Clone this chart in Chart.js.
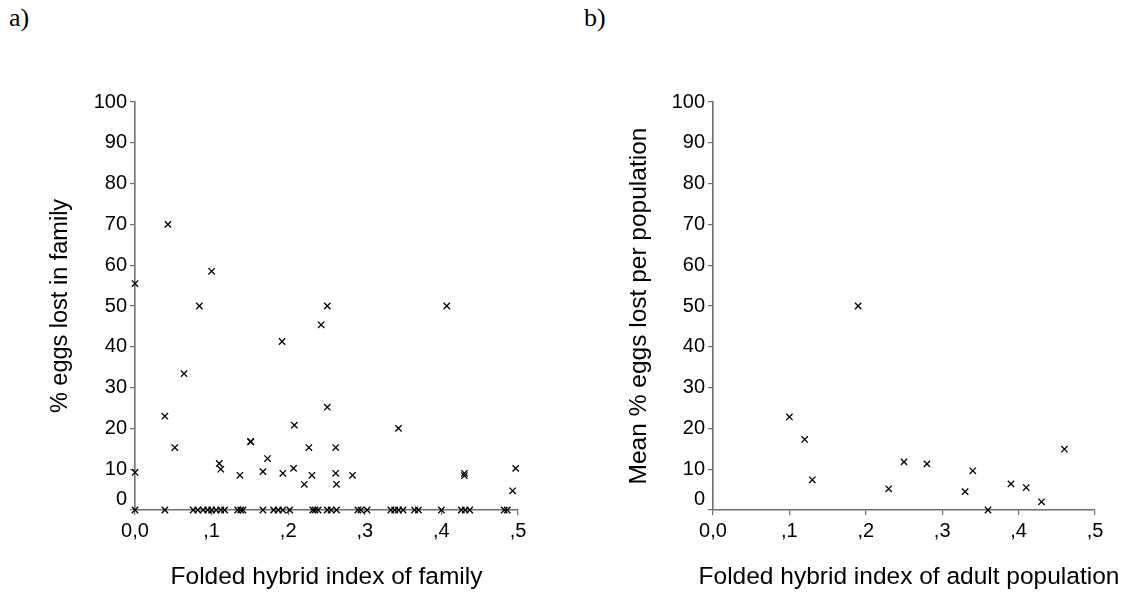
<!DOCTYPE html>
<html>
<head>
<meta charset="utf-8">
<script src="https://cdn.jsdelivr.net/npm/chart.js@4.4.1/dist/chart.umd.min.js"></script>
<style>
  body { margin: 0; background: #fff; }
  #wrap { position: relative; width: 1129px; height: 599px; }
  canvas { position: absolute; top: 0; }
  .panel { position: absolute; top: 3px; font: 26px "Liberation Serif", "Times New Roman", serif; color: #000; }
</style>
</head>
<body>
<div id="wrap">
  <div class="panel" style="left:9px">a)</div>
  <div class="panel" style="left:584px">b)</div>
  <canvas id="famChart" width="565" height="599" style="left:0"></canvas>
  <canvas id="popChart" width="564" height="599" style="left:565px"></canvas>
</div>
<script>
// a) egg loss per family against the family's folded hybrid index
const famX = [
  0.000, 0.000, 0.043, 0.039, 0.052, 0.064, 0.084, 0.100, 0.110, 0.112,
  0.137, 0.151, 0.151, 0.167, 0.173, 0.192, 0.193, 0.207, 0.208, 0.221,
  0.227, 0.231, 0.243, 0.251, 0.251, 0.262, 0.262, 0.263, 0.284, 0.344,
  0.407, 0.430, 0.430, 0.493, 0.497
];
const famY = [
  55.5, 9.2, 70.0, 23.0, 15.3, 33.4, 50.0, 58.5, 11.4, 10.0,
  8.5, 16.7, 16.8, 9.4, 12.6, 41.3, 9.0, 10.2, 20.8, 6.3,
  15.3, 8.5, 45.4, 50.0, 25.2, 15.3, 9.0, 6.3, 8.5, 20.0,
  50.0, 8.4, 9.0, 4.7, 10.2
];
// families that lost no eggs (plotted on the baseline)
const famZeroX = [
  0.000, 0.039, 0.076, 0.082, 0.089, 0.095, 0.100, 0.106, 0.112, 0.117,
  0.134, 0.138, 0.141, 0.167, 0.181, 0.187, 0.193, 0.202, 0.232, 0.235,
  0.239, 0.251, 0.256, 0.263, 0.291, 0.295, 0.303, 0.334, 0.339, 0.344,
  0.350, 0.365, 0.370, 0.400, 0.426, 0.431, 0.437, 0.482, 0.486
];

// b) mean egg loss per population against the adult population's index
const popX = [0.10, 0.12, 0.13, 0.19, 0.23, 0.25, 0.28, 0.33, 0.34, 0.36, 0.39, 0.41, 0.43, 0.46];
const popY = [22.8, 17.3, 7.4, 50.0, 5.2, 11.8, 11.3, 4.5, 9.6, 0.0, 6.4, 5.5, 2.0, 14.9];

const xTickLabels = ['0,0', ',1', ',2', ',3', ',4', ',5'];
const yTickLabels = ['0', '10', '20', '30', '40', '50', '60', '70', '80', '90', '100'];

const sans = '"Liberation Sans", Arial, sans-serif';
const axisGray = '#6e6e6e';
const tickFont = { family: sans, size: 20 };
Chart.defaults.font.family = sans;

// the bottom "0" label sits a little above the baseline, clear of the x labels;
// the x title is drawn here too so a long one is not squeezed to the axis width
const axisExtras = {
  id: 'axisExtras',
  afterDraw(chart, args, opts) {
    const { x, y } = chart.scales;
    const ctx = chart.ctx;
    ctx.save();
    ctx.fillStyle = '#000';
    ctx.font = '20px ' + sans;
    ctx.textAlign = 'right';
    ctx.textBaseline = 'middle';
    ctx.fillText(yTickLabels[0], y.right - 8, y.getPixelForValue(0) - 11);
    ctx.font = '24.5px ' + sans;
    ctx.textAlign = 'center';
    ctx.fillText(opts.text, (x.left + x.right) / 2 + opts.shift, 577);
    ctx.restore();
  }
};

function makeChart(id, xs, ys, opts) {
  const points = xs.map((x, i) => ({ x: x, y: ys[i] }));
  return new Chart(document.getElementById(id), {
    type: 'scatter',
    data: {
      datasets: [{
        data: points,
        pointStyle: 'crossRot',
        pointRadius: 4.5,
        borderColor: '#000',
        backgroundColor: '#000',
        borderWidth: 1.3,
        clip: false
      }]
    },
    options: {
      responsive: false,
      animation: false,
      events: [],
      layout: { padding: { left: 0, top: 102, right: opts.padRight, bottom: 0 } },
      plugins: {
        legend: { display: false },
        tooltip: { enabled: false },
        axisExtras: { text: opts.xTitle, shift: opts.xTitleShift }
      },
      scales: {
        x: {
          type: 'linear',
          min: 0,
          max: 0.5,
          afterFit: s => { s.height = 89; },
          ticks: {
            stepSize: 0.1, autoSkip: false, maxRotation: 0, padding: 4,
            color: '#000', font: tickFont,
            callback: (v, i) => xTickLabels[i]
          },
          grid: { drawOnChartArea: false, tickLength: 5, color: axisGray, lineWidth: 1.2 },
          border: { color: axisGray, width: 1.6 }
        },
        y: {
          type: 'linear',
          min: 0,
          max: 100,
          afterFit: s => { s.width = opts.yWidth; },
          ticks: {
            stepSize: 10, autoSkip: false, padding: 3,
            color: '#000', font: tickFont,
            callback: (v, i) => (i === 0 ? '' : yTickLabels[i])
          },
          grid: { drawOnChartArea: false, tickLength: 5, color: axisGray, lineWidth: 1.2 },
          border: { color: axisGray, width: 1.6 },
          title: {
            display: true, text: opts.yTitle, color: '#000',
            font: { family: sans, size: opts.yTitleSize }, padding: { top: opts.yTitlePad, bottom: 0 }
          }
        }
      }
    },
    plugins: [axisExtras]
  });
}

makeChart('famChart',
  famX.concat(famZeroX),
  famY.concat(famZeroX.map(() => 0)),
  { xTitle: 'Folded hybrid index of family', xTitleShift: 0, yTitle: '% eggs lost in family',
    padRight: 47, yWidth: 135, yTitlePad: 46, yTitleSize: 23.5 });

makeChart('popChart', popX, popY,
  { xTitle: 'Folded hybrid index of adult population', xTitleShift: 5, yTitle: 'Mean % eggs lost per population',
    padRight: 34, yWidth: 148, yTitlePad: 60, yTitleSize: 24.5 });
</script>
</body>
</html>
